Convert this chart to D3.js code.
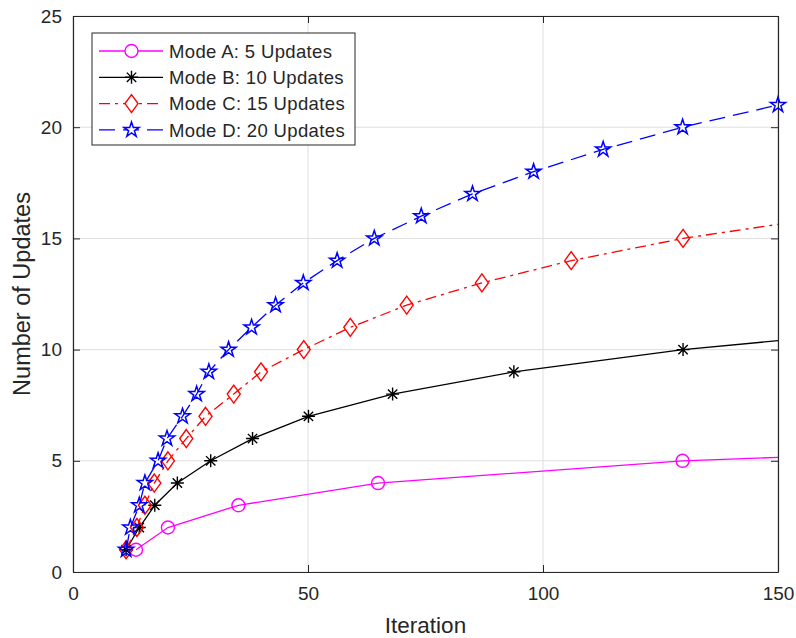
<!DOCTYPE html>
<html>
<head>
<meta charset="utf-8">
<script src="https://cdn.jsdelivr.net/npm/d3@7"></script>
<style>
  html, body { margin: 0; padding: 0; background: #fff; }
  svg text { font-family: "Liberation Sans", Arial, Helvetica, sans-serif; fill: #262626; }
</style>
</head>
<body>
<svg id="chart" width="796" height="638"></svg>
<script>
// Iterations at which each mode reaches the next update count, plus its value at the last iteration
const modeNames = ["Mode A: 5 Updates", "Mode B: 10 Updates", "Mode C: 15 Updates", "Mode D: 20 Updates"];

const modeAIter = [13.4, 20.2, 35.2, 64.9, 129.7];
const modeACount = [1, 2, 3, 4, 5];
const modeAEnd = 5.15;

const modeBIter = [11.3, 14.1, 17.4, 22.2, 29.3, 38.2, 50.1, 68.0, 93.8, 129.8];
const modeBCount = [1, 2, 3, 4, 5, 6, 7, 8, 9, 10];
const modeBEnd = 10.4;

const modeCIter = [11.3, 13.6, 15.3, 17.3, 20.2, 24.1, 28.2, 34.2, 40.0, 49.1, 59.0, 71.0, 87.0, 106.0, 129.8];
const modeCCount = [1, 2, 3, 4, 5, 6, 7, 8, 9, 10, 11, 12, 13, 14, 15];
const modeCEnd = 15.63;

const modeDIter = [11.3, 12.2, 14.1, 15.3, 18.1, 20.0, 23.3, 26.3, 28.9, 33.1, 38.0, 43.1, 49.0, 56.2, 64.1, 74.1, 85.0, 98.0, 112.8, 129.7, 150];
const modeDCount = [1, 2, 3, 4, 5, 6, 7, 8, 9, 10, 11, 12, 13, 14, 15, 16, 17, 18, 19, 20, 21];
const modeDEnd = 21;

const xTicks = [0, 50, 100, 150];
const yTicks = [0, 5, 10, 15, 20, 25];
const xMax = 150;

const series = [
  { name: modeNames[0], iter: modeAIter, count: modeACount, end: modeAEnd, color: "#ff00ff", dash: null, marker: "circle" },
  { name: modeNames[1], iter: modeBIter, count: modeBCount, end: modeBEnd, color: "#000000", dash: null, marker: "asterisk" },
  { name: modeNames[2], iter: modeCIter, count: modeCCount, end: modeCEnd, color: "#ff0000", dash: "11,5,3,5", marker: "diamond" },
  { name: modeNames[3], iter: modeDIter, count: modeDCount, end: modeDEnd, color: "#0000ff", dash: "16,8", marker: "pentagram" }
];

const svg = d3.select("#chart");
const m = { left: 73, right: 18, top: 16, bottom: 66 };
const W = 796, H = 638;
const x = d3.scaleLinear().domain([0, 150]).range([m.left, W - m.right]);
const y = d3.scaleLinear().domain([0, 25]).range([H - m.bottom, m.top]);
const x0 = x.range()[0], x1 = x.range()[1], y0 = y.range()[0], y1 = y.range()[1];

// grid
const grid = svg.append("g").attr("stroke", "#dfdfdf").attr("stroke-width", 1);
xTicks.forEach(t => grid.append("line").attr("x1", x(t)).attr("x2", x(t)).attr("y1", y0).attr("y2", y1));
yTicks.forEach(t => grid.append("line").attr("x1", x0).attr("x2", x1).attr("y1", y(t)).attr("y2", y(t)));

// axes with inward ticks on all four sides
const tickLen = 7;
const axisColor = "#262626";
const bottomAxis = svg.append("g").attr("transform", `translate(0,${y0})`)
  .call(d3.axisBottom(x).tickValues(xTicks).tickSizeInner(-tickLen).tickSizeOuter(0).tickPadding(15));
const topAxis = svg.append("g").attr("transform", `translate(0,${y1})`)
  .call(d3.axisTop(x).tickValues(xTicks).tickSizeInner(-tickLen).tickSizeOuter(0).tickFormat(""));
const leftAxis = svg.append("g").attr("transform", `translate(${x0},0)`)
  .call(d3.axisLeft(y).tickValues(yTicks).tickSizeInner(-tickLen).tickSizeOuter(0).tickPadding(11));
const rightAxis = svg.append("g").attr("transform", `translate(${x1},0)`)
  .call(d3.axisRight(y).tickValues(yTicks).tickSizeInner(-tickLen).tickSizeOuter(0).tickFormat(""));
[bottomAxis, topAxis, leftAxis, rightAxis].forEach(g => {
  g.select(".domain").attr("stroke", axisColor).attr("stroke-width", 1.2);
  g.selectAll(".tick line").attr("stroke", axisColor).attr("stroke-width", 1);
  g.selectAll(".tick text").attr("font-size", 19).attr("fill", axisColor)
    .style("font-family", '"Liberation Sans", Arial, sans-serif');
});

// axis titles
svg.append("text").attr("x", (x0 + x1) / 2).attr("y", 633).attr("text-anchor", "middle")
  .attr("font-size", 22.5).text("Iteration");
svg.append("text").attr("transform", `translate(30,${(y0 + y1) / 2}) rotate(-90)`).attr("text-anchor", "middle")
  .attr("font-size", 23.5).text("Number of Updates");

// marker shapes
function markerPath(type) {
  const p = d3.path();
  if (type === "circle") {
    p.arc(0, 0, 6.5, 0, 2 * Math.PI);
  } else if (type === "diamond") {
    p.moveTo(0, -9); p.lineTo(6.5, 0); p.lineTo(0, 9); p.lineTo(-6.5, 0); p.closePath();
  } else if (type === "asterisk") {
    const r = 6.5, d = r * 0.72;
    p.moveTo(-r, 0); p.lineTo(r, 0);
    p.moveTo(0, -r); p.lineTo(0, r);
    p.moveTo(-d, -d); p.lineTo(d, d);
    p.moveTo(-d, d); p.lineTo(d, -d);
  } else if (type === "pentagram") {
    const R = 8, r = R * 0.382;
    for (let i = 0; i < 10; i++) {
      const a = -Math.PI / 2 + i * Math.PI / 5;
      const rr = i % 2 === 0 ? R : r;
      const px = rr * Math.cos(a), py = rr * Math.sin(a);
      if (i === 0) p.moveTo(px, py); else p.lineTo(px, py);
    }
    p.closePath();
  }
  return p.toString();
}

const line = d3.line().x(d => x(d[0])).y(d => y(d[1]));

const plot = svg.append("g");
series.forEach(s => {
  const pts = s.iter.map((v, i) => [v, s.count[i]]);
  const linePts = pts[pts.length - 1][0] < xMax ? pts.concat([[xMax, s.end]]) : pts;
  plot.append("path").attr("d", line(linePts)).attr("fill", "none")
    .attr("stroke", s.color).attr("stroke-width", 1.3)
    .attr("stroke-dasharray", s.dash);
  plot.append("g").selectAll("path").data(pts).join("path")
    .attr("transform", d => `translate(${x(d[0])},${y(d[1])})`)
    .attr("d", markerPath(s.marker)).attr("fill", "none")
    .attr("stroke", s.color).attr("stroke-width", s.marker === "pentagram" ? 1.5 : 1.4);
});

// legend
const lg = svg.append("g").attr("transform", "translate(92,33)");
lg.append("rect").attr("width", 263).attr("height", 112).attr("fill", "#fff")
  .attr("stroke", axisColor).attr("stroke-width", 1);
series.forEach((s, i) => {
  const cy = 18 + i * 26.3;
  lg.append("line").attr("x1", 7).attr("x2", 71).attr("y1", cy).attr("y2", cy)
    .attr("stroke", s.color).attr("stroke-width", 1.3).attr("stroke-dasharray", s.dash);
  lg.append("path").attr("transform", `translate(39.5,${cy})`).attr("d", markerPath(s.marker))
    .attr("fill", "#fff").attr("fill-opacity", s.marker === "asterisk" ? 0 : 1)
    .attr("stroke", s.color).attr("stroke-width", s.marker === "pentagram" ? 1.5 : 1.4);
  lg.append("text").attr("x", 77).attr("y", cy).attr("dy", "0.36em")
    .attr("font-size", 18.5).attr("letter-spacing", 0.35).text(s.name);
});
</script>
</body>
</html>
